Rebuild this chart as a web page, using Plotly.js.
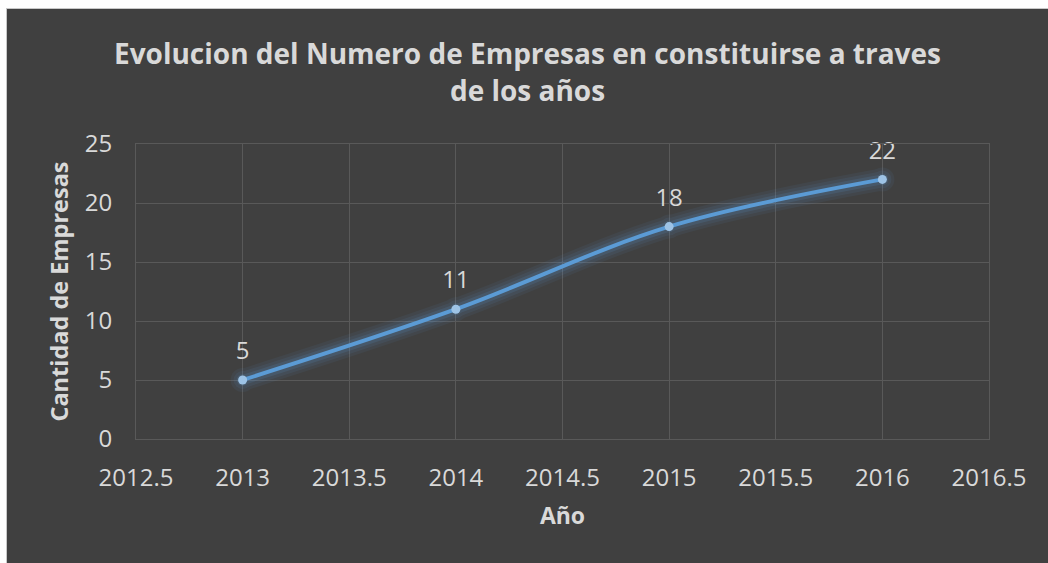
<!DOCTYPE html>
<html>
<head>
<meta charset="utf-8">
<script src="https://cdn.plot.ly/plotly-3.0.1.min.js"></script>
<style>
  html, body { margin: 0; padding: 0; background: #ffffff; width: 1048px; height: 563px; overflow: hidden; }
  #chart { position: absolute; left: 6px; top: 8px; width: 1041px; height: 554px;
           border-left: 1px solid #c8c8c8; border-top: 1px solid #c8c8c8; }
</style>
</head>
<body>
<div id="chart"></div>
<script>
const years = [2013, 2014, 2015, 2016];
const empresas = [5, 11, 18, 22];
const xTicks = [2012.5, 2013, 2013.5, 2014, 2014.5, 2015, 2015.5, 2016, 2016.5];
const yTicks = [0, 5, 10, 15, 20, 25];

const FONT = "'Open Sans', 'Noto Sans', sans-serif";
const TXT = '#d9d9d9';
const GRID = '#595959';
const BLUE = '#5b9bd5';

function glow(w, op) {
  return { x: years, y: empresas, type: 'scatter', mode: 'lines+markers',
    line: { color: BLUE, width: w, shape: 'spline' },
    marker: { color: BLUE, size: w + 2 },
    opacity: op, hoverinfo: 'skip', showlegend: false, cliponaxis: false };
}
const main = { x: years, y: empresas, type: 'scatter', mode: 'lines+markers',
  line: { color: BLUE, width: 4, shape: 'spline' },
  marker: { color: '#9dc3e6', size: 9, line: { width: 0 } }, showlegend: false, cliponaxis: false };
const labels = { x: years, y: empresas, type: 'scatter', mode: 'markers+text',
  marker: { color: 'rgba(0,0,0,0)', size: 22 },
  text: empresas.map(String), textposition: 'top center', cliponaxis: false,
  textfont: { family: FONT, size: 24, color: TXT }, showlegend: false };

const layout = {
  width: 1041, height: 554,
  paper_bgcolor: '#404040', plot_bgcolor: '#404040',
  margin: { l: 129, r: 59, t: 135, b: 124 },
  title: { text: '<b>Evolucion del Numero de Empresas en constituirse a traves<br>de los años</b>',
    font: { family: FONT, size: 28, color: TXT }, x: 0.5, xanchor: 'center', y: 0.9, yanchor: 'middle' },
  xaxis: { range: [2012.5, 2016.5], tickvals: xTicks, ticktext: xTicks.map(String),
    showgrid: true, gridcolor: GRID, gridwidth: 1, zeroline: false,
    showline: true, linecolor: GRID, mirror: true, ticks: '', ticklabelstandoff: 17,
    tickfont: { family: FONT, size: 24, color: TXT },
    title: { text: '<b>Año</b>', font: { family: FONT, size: 23, color: TXT }, standoff: 16 } },
  yaxis: { range: [0, 25], tickvals: yTicks, ticktext: yTicks.map(String),
    showgrid: true, gridcolor: GRID, gridwidth: 1, zeroline: false,
    showline: true, linecolor: GRID, mirror: true, ticks: '', ticklabelstandoff: 18,
    tickfont: { family: FONT, size: 24, color: TXT },
    title: { text: '<b>Cantidad de Empresas</b>', font: { family: FONT, size: 23.5, color: TXT }, standoff: 9 } },
  showlegend: false
};

Plotly.newPlot('chart', [glow(22, 0.07), glow(16, 0.09), glow(10, 0.14), main, labels], layout,
  { displayModeBar: false, staticPlot: true });
</script>
</body>
</html>
